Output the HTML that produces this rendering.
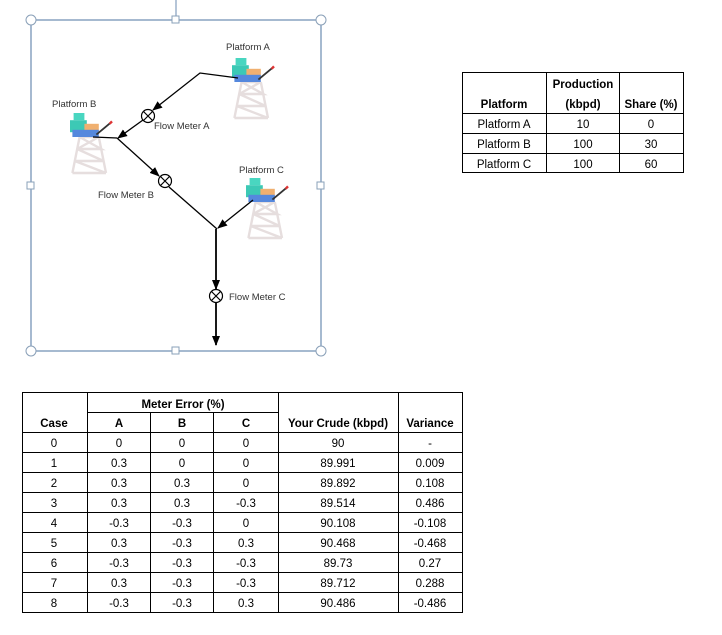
<!DOCTYPE html>
<html><head><meta charset="utf-8"><style>
body{margin:0;background:#fff}
svg text{font-family:"Liberation Sans",sans-serif}
</style></head><body>
<svg width="722" height="630" viewBox="0 0 722 630" xmlns="http://www.w3.org/2000/svg">
<defs>
<marker id="ar" markerWidth="10" markerHeight="10" refX="9" refY="5" orient="auto" markerUnits="userSpaceOnUse">
<path d="M0,1 L10,5 L0,9 Z" fill="#000"/></marker>
<g id="plat">
 <g stroke="#e6dede" stroke-width="2" fill="none">
  <path d="M8,20 L2,50 M24,20 L30,50 M8,20 L24,20 M6,30 L26,30 M4,40 L28,40 M2,50 L30,50 M8,20 L26,30 L6,30 L28,40 L4,40 L30,50 M24,20 L6,30"/>
 </g>
 <rect x="0" y="6" width="14" height="10" fill="#3cc9b5"/>
 <rect x="3" y="0" width="9" height="6" fill="#49d6c0"/>
 <rect x="12" y="9" width="12" height="9" fill="#f0b070"/>
 <rect x="2" y="14" width="22" height="6" fill="#5588dd"/>
 <line x1="22" y1="18" x2="34" y2="8" stroke="#333" stroke-width="1.5"/>
 <line x1="33" y1="9" x2="35" y2="7" stroke="#d33" stroke-width="2"/>
</g>
</defs>
<!-- selection frame -->
<line x1="176" y1="0" x2="176" y2="20" stroke="#6b8bb0"/>
<rect x="31" y="20" width="290" height="331" fill="none" stroke="#6b8bb0" stroke-width="1.2"/>
<g fill="#fff" stroke="#8aa0b8">
<circle cx="31" cy="20" r="5"/><circle cx="321" cy="20" r="5"/><circle cx="31" cy="351" r="5"/><circle cx="321" cy="351" r="5"/>
<rect x="172" y="16" width="7" height="7"/><rect x="172" y="347" width="7" height="7"/>
<rect x="27" y="182" width="7" height="7"/><rect x="317" y="182" width="7" height="7"/>
</g>
<!-- platforms -->
<g transform="translate(232,58) scale(1.2)"><use href="#plat"/></g>
<g transform="translate(70,113) scale(1.2)"><use href="#plat"/></g>
<g transform="translate(246,178) scale(1.2)"><use href="#plat"/></g>
<!-- lines -->
<g stroke="#000" stroke-width="1.3" fill="none">
<polyline points="238,78 200,73 153,110" marker-end="url(#ar)"/>
<line x1="143" y1="120" x2="118" y2="138" marker-end="url(#ar)"/>
<line x1="93" y1="137" x2="117" y2="138"/>
<line x1="117" y1="138" x2="159" y2="176" marker-end="url(#ar)"/>
<line x1="169" y1="187" x2="217" y2="229"/>
<line x1="253" y1="200" x2="218" y2="228" marker-end="url(#ar)"/>
<line x1="216" y1="229" x2="216" y2="289" stroke-width="1.8" marker-end="url(#ar)"/>
<line x1="216" y1="303" x2="216" y2="345" stroke-width="1.8" marker-end="url(#ar)"/>
</g>
<g stroke="#000" stroke-width="1.2" fill="#fff">
<circle cx="148" cy="116" r="6.5"/><path d="M143.5,111.5 L152.5,120.5 M152.5,111.5 L143.5,120.5"/>
<circle cx="165" cy="181" r="6.5"/><path d="M160.5,176.5 L169.5,185.5 M169.5,176.5 L160.5,185.5"/>
<circle cx="216" cy="296" r="6.5"/><path d="M211.5,291.5 L220.5,300.5 M220.5,291.5 L211.5,300.5"/>
</g>
<g font-size="9.5" fill="#333">
<text x="226" y="50">Platform A</text>
<text x="52" y="107">Platform B</text>
<text x="154" y="129">Flow Meter A</text>
<text x="239" y="173">Platform C</text>
<text x="98" y="198">Flow Meter B</text>
<text x="229" y="300">Flow Meter C</text>
</g>
<!-- table 1 -->
<g stroke="#000" stroke-width="1" fill="none">
<rect x="462.5" y="72.5" width="221" height="100"/>
<line x1="546.5" y1="72" x2="546.5" y2="173"/><line x1="619.5" y1="72" x2="619.5" y2="173"/>
<line x1="462" y1="113.5" x2="684" y2="113.5"/><line x1="462" y1="133.5" x2="684" y2="133.5"/><line x1="462" y1="153.5" x2="684" y2="153.5"/>
</g>
<g font-size="11.5" fill="#000" text-anchor="middle">
<text x="583" y="88" font-weight="bold">Production</text>
<text x="504" y="108" font-weight="bold">Platform</text>
<text x="583" y="108" font-weight="bold">(kbpd)</text>
<text x="651" y="108" font-weight="bold">Share (%)</text>
<text x="504" y="128">Platform A</text><text x="583" y="128">10</text><text x="651" y="128">0</text>
<text x="504" y="148">Platform B</text><text x="583" y="148">100</text><text x="651" y="148">30</text>
<text x="504" y="168">Platform C</text><text x="583" y="168">100</text><text x="651" y="168">60</text>
</g>
<!-- table 2 -->
<g stroke="#000" stroke-width="1" fill="none">
<rect x="22.5" y="392.5" width="440" height="220"/>
<line x1="87.5" y1="392" x2="87.5" y2="613"/>
<line x1="150.5" y1="412" x2="150.5" y2="613"/>
<line x1="213.5" y1="412" x2="213.5" y2="613"/>
<line x1="278.5" y1="392" x2="278.5" y2="613"/>
<line x1="398.5" y1="392" x2="398.5" y2="613"/>
<line x1="87" y1="412.5" x2="279" y2="412.5"/>
<line x1="22" y1="432.5" x2="463" y2="432.5"/>
<line x1="22" y1="452.5" x2="463" y2="452.5"/><line x1="22" y1="472.5" x2="463" y2="472.5"/>
<line x1="22" y1="492.5" x2="463" y2="492.5"/><line x1="22" y1="512.5" x2="463" y2="512.5"/>
<line x1="22" y1="532.5" x2="463" y2="532.5"/><line x1="22" y1="552.5" x2="463" y2="552.5"/>
<line x1="22" y1="572.5" x2="463" y2="572.5"/><line x1="22" y1="592.5" x2="463" y2="592.5"/>
</g>
<g font-size="11.5" fill="#000" text-anchor="middle">
<g font-weight="bold">
<text x="183" y="408">Meter Error (%)</text>
<text x="54" y="427">Case</text><text x="119" y="427">A</text><text x="182" y="427">B</text><text x="246" y="427">C</text>
<text x="338" y="427">Your Crude (kbpd)</text><text x="430" y="427">Variance</text>
</g>
<text x="54" y="447">0</text><text x="119" y="447">0</text><text x="182" y="447">0</text><text x="246" y="447">0</text><text x="338" y="447">90</text><text x="430" y="447">-</text>
<text x="54" y="467">1</text><text x="119" y="467">0.3</text><text x="182" y="467">0</text><text x="246" y="467">0</text><text x="338" y="467">89.991</text><text x="430" y="467">0.009</text>
<text x="54" y="487">2</text><text x="119" y="487">0.3</text><text x="182" y="487">0.3</text><text x="246" y="487">0</text><text x="338" y="487">89.892</text><text x="430" y="487">0.108</text>
<text x="54" y="507">3</text><text x="119" y="507">0.3</text><text x="182" y="507">0.3</text><text x="246" y="507">-0.3</text><text x="338" y="507">89.514</text><text x="430" y="507">0.486</text>
<text x="54" y="527">4</text><text x="119" y="527">-0.3</text><text x="182" y="527">-0.3</text><text x="246" y="527">0</text><text x="338" y="527">90.108</text><text x="430" y="527">-0.108</text>
<text x="54" y="547">5</text><text x="119" y="547">0.3</text><text x="182" y="547">-0.3</text><text x="246" y="547">0.3</text><text x="338" y="547">90.468</text><text x="430" y="547">-0.468</text>
<text x="54" y="567">6</text><text x="119" y="567">-0.3</text><text x="182" y="567">-0.3</text><text x="246" y="567">-0.3</text><text x="338" y="567">89.73</text><text x="430" y="567">0.27</text>
<text x="54" y="587">7</text><text x="119" y="587">0.3</text><text x="182" y="587">-0.3</text><text x="246" y="587">-0.3</text><text x="338" y="587">89.712</text><text x="430" y="587">0.288</text>
<text x="54" y="607">8</text><text x="119" y="607">-0.3</text><text x="182" y="607">-0.3</text><text x="246" y="607">0.3</text><text x="338" y="607">90.486</text><text x="430" y="607">-0.486</text>
</g>
</svg>
</body></html>
